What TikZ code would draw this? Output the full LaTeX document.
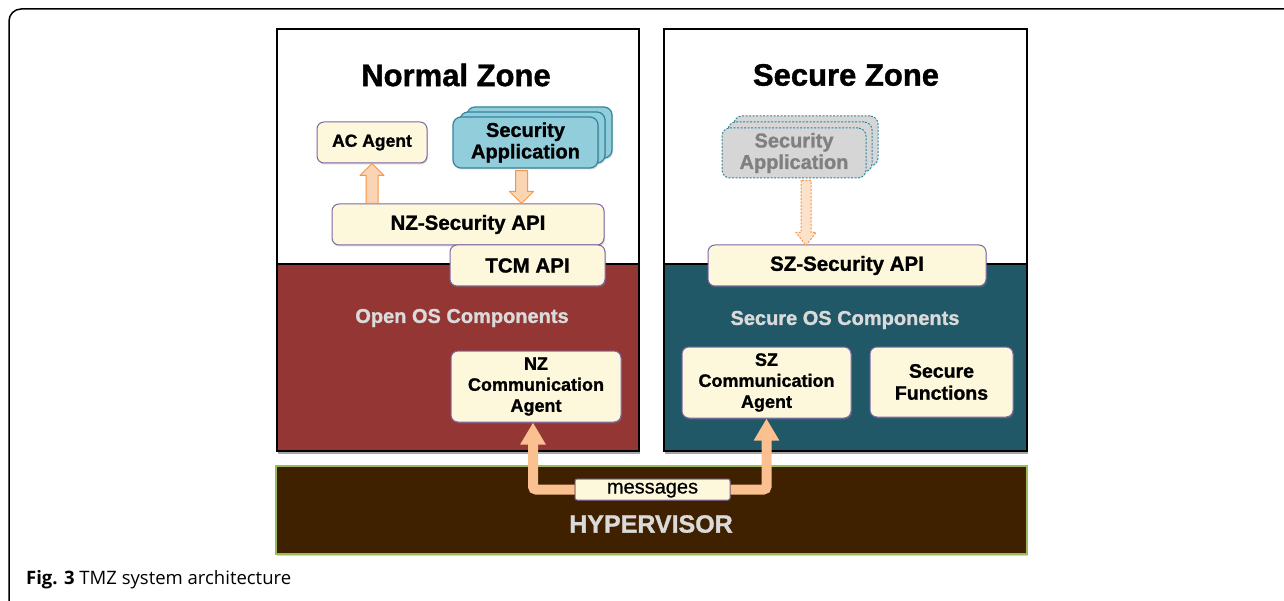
\documentclass[tikz,border=0pt]{standalone}
\usepackage{fontspec}
\setmainfont{Liberation Sans}[BoldFeatures={FakeBold=1.2}]
\newfontfamily\capfont{Open Sans}
\newfontfamily\msgfont{Liberation Sans}[FakeBold=0.6]
\usetikzlibrary{arrows.meta,calc,shadows}
\definecolor{zred}{HTML}{943634}
\definecolor{zteal}{HTML}{215868}
\definecolor{hypbrown}{HTML}{3F2100}
\definecolor{hypline}{HTML}{9BBB59}
\definecolor{cream}{HTML}{FDF8DB}
\definecolor{boxline}{HTML}{7E68A6}
\definecolor{appblue}{HTML}{92CDDC}
\definecolor{appline}{HTML}{31859C}
\definecolor{ghostgray}{HTML}{D6D6D6}
\definecolor{ghosttext}{HTML}{808080}
\definecolor{lbl}{HTML}{DADADA}
\definecolor{arrline}{HTML}{F79646}
\definecolor{arrfill}{HTML}{FBD4B4}
\definecolor{msgorange}{HTML}{FAC090}
\begin{document}
\begin{tikzpicture}[x=1pt,y=-1pt,
  zonewhite/.style={draw=black, fill=white, line width=1.2pt, inner sep=0pt,
    drop shadow={shadow xshift=0.5pt, shadow yshift=-3pt, opacity=.7}},
  zonepart/.style={draw=black, line width=1.2pt, inner sep=0pt},
  cream/.style={draw=boxline, fill=cream, rounded corners=7pt, line width=1pt, inner sep=0pt,
    align=center, font=\fontsize{19}{22}\selectfont\bfseries,
    drop shadow={shadow xshift=1pt, shadow yshift=-1.5pt, opacity=.3}},
  app/.style={draw=appline, fill=appblue, rounded corners=8pt, line width=1.2pt, inner sep=0pt,
    align=center, minimum width=145pt, minimum height=51pt,
    font=\fontsize{20}{21.5}\selectfont\bfseries,
    drop shadow={shadow xshift=1pt, shadow yshift=-1.5pt, opacity=.3}},
  ghost/.style={draw=appline, fill=ghostgray, rounded corners=8pt, line width=1pt,
    dash pattern=on 2pt off 1.5pt, inner sep=0pt, align=center,
    minimum width=144pt, minimum height=50pt, text=ghosttext,
    font=\fontsize{20}{21.5}\selectfont\bfseries},
  title/.style={font=\fontsize{31}{36}\selectfont\bfseries, inner sep=0pt},
  oslabel/.style={font=\fontsize{20}{23}\selectfont\bfseries, text=lbl, inner sep=0pt},
  blk/.style={draw=arrline, fill=arrfill, line width=1pt, line join=round},
  blkdash/.style={draw=arrline, fill=arrfill!70!white, line width=1pt, dash pattern=on 2pt off 1.5pt},
  msgarrow/.style={draw=msgorange, line width=10pt, rounded corners=3pt,
    -{Triangle[width=24pt,length=22pt]}}
]
\useasboundingbox (0,0) rectangle (1284,601);
% outer frame
\draw[line width=1.5pt, rounded corners=12pt] (9,606) -- (9,9) -- (1290,9);

% zones
\node[zonewhite, minimum width=362pt, minimum height=422pt] (nzone) at (458,240) {};
\node[zonepart, fill=zred, minimum width=362pt, minimum height=187pt] (nos) at (458,357.5) {};
\node[zonewhite, minimum width=363pt, minimum height=422pt] (szone) at (845.5,240) {};
\node[zonepart, fill=zteal, minimum width=363pt, minimum height=187pt] (sos) at (845.5,357.5) {};

% hypervisor
\node[draw=hypline, fill=hypbrown, line width=1.5pt, inner sep=0pt, minimum width=751pt, minimum height=88pt,
  drop shadow={shadow xshift=1pt, shadow yshift=-2pt, opacity=.3}] (hyp) at (651.5,510) {};
\node[font=\fontsize{25}{30}\selectfont\bfseries, text=lbl, inner sep=0pt] (hyptext) at (651,524) {HYPERVISOR};

% titles
\node[title] (nztitle) at (456,75) {Normal Zone};
\node[title] (sztitle) at (846,75) {Secure Zone};

% normal zone contents
\node[cream, minimum width=110pt, minimum height=41pt, font=\fontsize{17.5}{21}\selectfont\bfseries] (ac) at (372,142.5) {AC Agent};
\node[app] (nzapp3) at (539.5,132.5) {};
\node[app] (nzapp2) at (532.5,137.5) {};
\node[app] (nzapp) at (525.5,142.5) {Security\\Application};
\node[cream, minimum width=272pt, minimum height=41pt, font=\fontsize{20.5}{24}\selectfont\bfseries] (nzapi) at (468,224.5) {NZ-Security API};
\node[cream, minimum width=155pt, minimum height=41pt, font=\fontsize{20.5}{24}\selectfont\bfseries] (tcm) at (527.5,265.5) {TCM API};
\node[oslabel] (openlbl) at (462,318) {Open OS Components};
\node[cream, minimum width=170pt, minimum height=71pt, font=\fontsize{18}{21}\selectfont\bfseries] (nzca) at (536,386.5) {NZ\\Communication\\Agent};

% secure zone contents
\node[ghost] (szapp3) at (806,141) {};
\node[ghost] (szapp2) at (800,147) {};
\node[ghost] (szapp) at (794,153) {Security\\Application};
\node[cream, minimum width=278pt, minimum height=41pt, font=\fontsize{20.5}{24}\selectfont\bfseries] (szapi) at (847,265.5) {SZ-Security API};
\node[oslabel] (securelbl) at (845,320) {Secure OS Components};
\node[cream, minimum width=169pt, minimum height=71pt, font=\fontsize{18}{21}\selectfont\bfseries] (szca) at (766.5,382.5) {SZ\\Communication\\Agent};
\node[cream, minimum width=143pt, minimum height=70pt, font=\fontsize{19.5}{22}\selectfont\bfseries] (sf) at (941.5,382) {Secure\\Functions};

% block arrows in the normal zone
\draw[blk] let \p1=(ac.south), \p2=(nzapi.north) in
  (\x1-6pt,\y2) -- (\x1-6pt,\y1-12pt) -- (\x1-12pt,\y1-12pt) -- (\x1,\y1)
  -- (\x1+12pt,\y1-12pt) -- (\x1+6pt,\y1-12pt) -- (\x1+6pt,\y2) -- cycle;
\draw[blk] let \p1=($(nzapp.south)+(-4,0)$), \p2=(nzapi.north) in
  (\x1-6pt,\y1-2pt) -- (\x1-6pt,\y2+12pt) -- (\x1-12pt,\y2+12pt) -- (\x1,\y2)
  -- (\x1+12pt,\y2+12pt) -- (\x1+6pt,\y2+12pt) -- (\x1+6pt,\y1-2pt) -- cycle;
% dashed arrow in the secure zone
\draw[blkdash] let \p1=(szapp3.south |- szapp.south), \p2=(szapi.north) in
  (\x1-5pt,\y1-2pt) -- (\x1-5pt,\y2+12pt) -- (\x1-10pt,\y2+12pt) -- (\x1,\y2-1pt)
  -- (\x1+10pt,\y2+12pt) -- (\x1+5pt,\y2+12pt) -- (\x1+5pt,\y1-2pt) -- cycle;

% messages
\node[draw=boxline, fill=cream, line width=1pt, inner sep=0pt, rounded corners=2pt,
  minimum width=155pt, minimum height=21pt, text height=11pt, text depth=3pt,
  font=\msgfont\fontsize{20}{22}\selectfont] (msg) at (652.5,489.5) {messages};
\draw[msgarrow] (msg.west) -| ($(nzca.south)+(-3,0)$);
\draw[msgarrow] (msg.east) -| (szca.south);

% caption
\node[anchor=base west, inner sep=0pt, font=\capfont\fontsize{18.5}{22}\selectfont] (cap) at (26,584)
  {\textbf{Fig. 3} TMZ system architecture};
\end{tikzpicture}
\end{document}
